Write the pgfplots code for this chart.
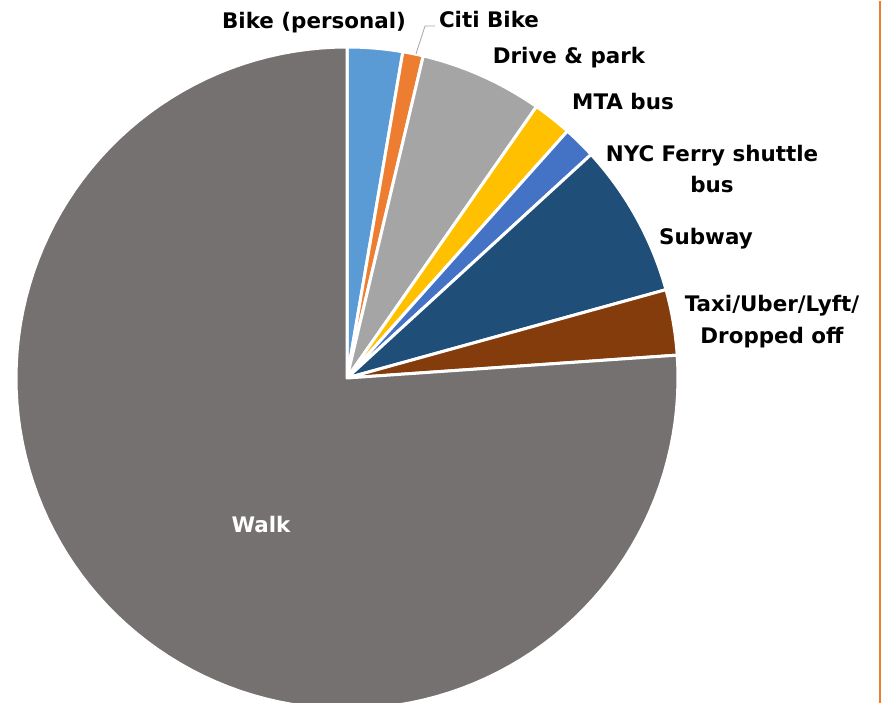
\documentclass[border=0pt]{standalone}
\usepackage{fontspec}
\setmainfont{DejaVu Sans}
\usepackage{pgfplots}
\usepackage{pgfplotstable}
\pgfplotsset{compat=1.18}
\definecolor{cBike}{HTML}{5B9BD5}
\definecolor{cCiti}{HTML}{ED7D31}
\definecolor{cDrive}{HTML}{A5A5A5}
\definecolor{cMTA}{HTML}{FFC000}
\definecolor{cFerry}{HTML}{4472C4}
\definecolor{cSubway}{HTML}{1F4E79}
\definecolor{cTaxi}{HTML}{843C0C}
\definecolor{cWalk}{HTML}{767171}
\definecolor{cFrame}{HTML}{ED7D31}
\pgfplotstableread{
mode value
Bike 2.7
Citi 1.0
Drive 6.0
MTA 1.9
Ferry 1.6
Subway 7.5
Taxi 3.2
Walk 76.1
}\piedata
\xdef\cumsum{0}
\newcommand\pieslice[2]{%
  \pgfplotstablegetelem{#1}{value}\of\piedata
  \pgfmathsetmacro\angS{90-3.6*\cumsum}%
  \pgfmathsetmacro\cumnew{\cumsum+\pgfplotsretval}%
  \xdef\cumsum{\cumnew}%
  \pgfmathsetmacro\angE{90-3.6*\cumsum}%
  \edef\doplot{\noexpand\addplot[fill=#2, draw=white, line width=3bp, line join=round, domain=\angE:\angS, samples=120]
    ({347+331*cos(x)},{325+331*sin(x)}) -- (axis cs:347,325) -- cycle;}%
  \doplot
}
\begin{document}
\begin{tikzpicture}
\begin{axis}[
  x=1bp, y=1bp, xmin=0, xmax=888, ymin=0, ymax=702,
  hide axis, clip=true, clip mode=individual,
]
\path (axis cs:0,0) rectangle (axis cs:888,702);
\pieslice{0}{cBike}
\pieslice{1}{cCiti}
\pieslice{2}{cDrive}
\pieslice{3}{cMTA}
\pieslice{4}{cFerry}
\pieslice{5}{cSubway}
\pieslice{6}{cTaxi}
\pieslice{7}{cWalk}
\draw[cFrame, line width=2bp] (axis cs:880,0) -- (axis cs:880,702);
\draw[gray!70, line width=0.8bp] (axis cs:416,649) -- (axis cs:425,677) -- (axis cs:435,677);
\begin{scope}[every node/.style={font=\fontsize{21.5}{32}\selectfont\bfseries, inner sep=0pt}]
\node at (axis cs:314,680) {Bike (personal)};
\node at (axis cs:489,683) {Citi Bike};
\node at (axis cs:569,645) {Drive \& park};
\node at (axis cs:623,601) {MTA bus};
\node[align=center] at (axis cs:712,534) {NYC Ferry shuttle\\bus};
\node at (axis cs:706,464) {Subway};
\node[align=center] at (axis cs:772,381) {Taxi/Uber/Lyft/\\Dropped off};
\node[white] at (axis cs:261,178) {Walk};
\end{scope}
\end{axis}
\end{tikzpicture}
\end{document}
